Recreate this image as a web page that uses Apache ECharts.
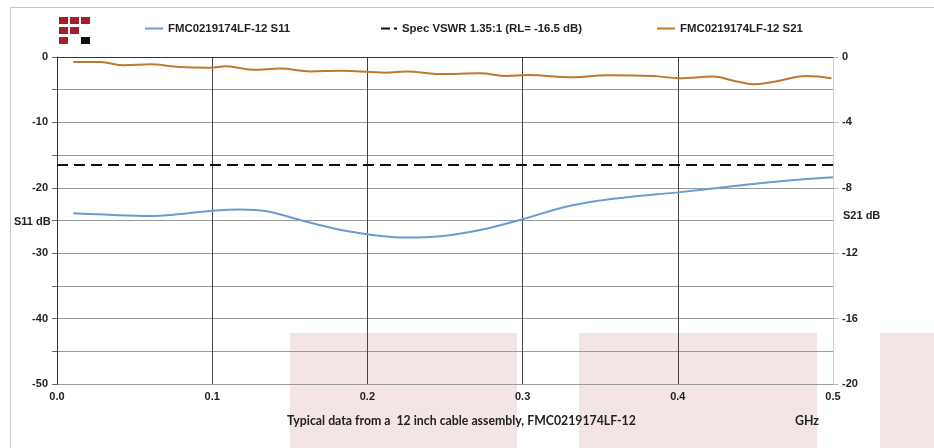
<!DOCTYPE html>
<html><head><meta charset="utf-8">
<script src="https://cdn.jsdelivr.net/npm/echarts@6/dist/echarts.min.js"></script>
<style>html,body{margin:0;padding:0;background:#fff}#c{width:934px;height:448px}</style>
</head><body><div id="c"></div>
<script>
// ---- data ----
const s11Freq = [0.0105, 0.03, 0.06, 0.08, 0.1, 0.118, 0.135, 0.161, 0.18, 0.2, 0.225, 0.247, 0.2726, 0.3, 0.326, 0.348, 0.369, 0.4, 0.434, 0.466, 0.5];
const s11Val  = [-23.9, -24.1, -24.3, -24.0, -23.5, -23.3, -23.6, -25.2, -26.3, -27.1, -27.6, -27.4, -26.45, -24.8, -23.0, -22.0, -21.4, -20.7, -19.8, -19.0, -18.4];
const s21Freq = [0.0105, 0.028, 0.043, 0.06, 0.079, 0.0986, 0.109, 0.126, 0.144, 0.163, 0.184, 0.202, 0.212, 0.225, 0.247, 0.2726, 0.29, 0.303, 0.333, 0.354, 0.384, 0.401, 0.423, 0.436, 0.449, 0.462, 0.483, 0.499];
const s21Val  = [-0.31, -0.31, -0.51, -0.45, -0.61, -0.65, -0.57, -0.78, -0.71, -0.88, -0.84, -0.92, -0.96, -0.88, -1.04, -1.0, -1.16, -1.10, -1.24, -1.12, -1.16, -1.30, -1.20, -1.45, -1.67, -1.51, -1.16, -1.30];
const specFreq = [0, 0.5];
const specVal  = [-16.5, -16.5];
const names = ['FMC0219174LF-12 S11', 'Spec VSWR 1.35:1 (RL= -16.5 dB)', 'FMC0219174LF-12 S21'];

const pair = (xs, ys) => xs.map((x, i) => [x, ys[i]]);
const lab = {fontFamily: 'Liberation Sans, Arial, sans-serif', fontWeight: 'bold', fontSize: 11, color: '#222'};
const legText = {fontFamily: 'Liberation Sans, Arial, sans-serif', fontWeight: 'bold', fontSize: 11.4, color: '#222'};

const chart = echarts.init(document.getElementById('c'));
const legendBase = {top: 18, itemWidth: 18, itemHeight: 2, itemGap: 4, textStyle: legText};
chart.setOption({
  animation: false,
  backgroundColor: '#fff',
  grid: {left: 57, right: 101, top: 57, bottom: 64, containLabel: false},
  legend: [
    Object.assign({}, legendBase, {left: 140, icon: 'rect', data: [names[0]]}),
    Object.assign({}, legendBase, {left: 376, itemWidth: 16, icon: 'path://M0,0H9V2H0Z M13,0H16V2H13Z', data: [names[1]]}),
    Object.assign({}, legendBase, {left: 652, icon: 'rect', data: [names[2]]})
  ],
  xAxis: {
    type: 'value', min: 0, max: 0.5, interval: 0.1,
    axisLine: {lineStyle: {color: '#333', width: 1}},
    axisTick: {show: false},
    axisLabel: Object.assign({}, lab, {margin: 7, formatter: v => v.toFixed(1)}),
    splitLine: {show: true, lineStyle: {color: '#444', width: 1}}
  },
  yAxis: [
    {
      type: 'value', min: -50, max: 0, interval: 5, position: 'left',
      axisLine: {show: true, lineStyle: {color: '#333'}},
      axisTick: {show: true, length: 5, inside: false, lineStyle: {color: '#666'}},
      axisLabel: Object.assign({}, lab, {margin: 9, formatter: v => (v % 10 === 0 ? String(v) : '')}),
      splitLine: {show: true, lineStyle: {color: '#9a9a9a', width: 1}}
    },
    {
      type: 'value', min: -20, max: 0, interval: 4, position: 'right',
      axisLine: {show: true, lineStyle: {color: '#cfcfcf'}},
      axisTick: {show: true, length: 5, lineStyle: {color: '#bbb'}},
      axisLabel: Object.assign({}, lab, {margin: 9}),
      splitLine: {show: false}
    }
  ],
  graphic: [
    {type: 'rect', z: -10, shape: {x: 10.5, y: 7.5, width: 940, height: 460}, style: {fill: 'none', stroke: '#c8c8c8', lineWidth: 1}},
    {type: 'rect', z: -5, shape: {x: 290, y: 333, width: 227, height: 115}, style: {fill: '#f3e5e6'}},
    {type: 'rect', z: -5, shape: {x: 579, y: 333, width: 238, height: 115}, style: {fill: '#f3e5e6'}},
    {type: 'rect', z: -5, shape: {x: 880, y: 333, width: 54, height: 115}, style: {fill: '#f3e5e6'}},
    // logo
    {type: 'rect', shape: {x: 59, y: 17, width: 9, height: 7}, style: {fill: '#a51f2b'}},
    {type: 'rect', shape: {x: 70, y: 17, width: 9, height: 7}, style: {fill: '#a51f2b'}},
    {type: 'rect', shape: {x: 81, y: 17, width: 9, height: 7}, style: {fill: '#a51f2b'}},
    {type: 'rect', shape: {x: 59, y: 27, width: 9, height: 7}, style: {fill: '#a51f2b'}},
    {type: 'rect', shape: {x: 70, y: 27, width: 9, height: 7}, style: {fill: '#a51f2b'}},
    {type: 'rect', shape: {x: 59, y: 37, width: 9, height: 7}, style: {fill: '#a51f2b'}},
    {type: 'rect', shape: {x: 81, y: 37, width: 9, height: 7}, style: {fill: '#111'}},
    {type: 'text', left: 14, top: 216, style: {text: 'S11 dB', fill: '#222', font: 'bold 11px "Liberation Sans", Arial, sans-serif'}},
    {type: 'text', left: 843, top: 210, style: {text: 'S21 dB', fill: '#222', font: 'bold 11px "Liberation Sans", Arial, sans-serif'}},
    {type: 'text', left: 287, top: 415, style: {text: 'Typical data from a  12 inch cable assembly, FMC0219174LF-12', fill: '#222', font: 'bold 12.3px Lato, sans-serif'}},
    {type: 'text', left: 795, top: 415, style: {text: 'GHz', fill: '#222', font: 'bold 12.3px Lato, sans-serif'}}
  ],
  series: [
    {name: names[0], type: 'line', yAxisIndex: 0, smooth: 0.4, symbol: 'none', data: pair(s11Freq, s11Val),
     lineStyle: {color: '#6b9bd2', width: 2}, itemStyle: {color: '#6b9bd2'}},
    {name: names[1], type: 'line', yAxisIndex: 0, symbol: 'none', data: pair(specFreq, specVal),
     lineStyle: {color: '#111', width: 2, type: [11, 6]}, itemStyle: {color: '#111'}},
    {name: names[2], type: 'line', yAxisIndex: 1, smooth: 0.4, symbol: 'none', data: pair(s21Freq, s21Val),
     lineStyle: {color: '#c0782f', width: 2}, itemStyle: {color: '#c0782f'}}
  ]
});
</script></body></html>
